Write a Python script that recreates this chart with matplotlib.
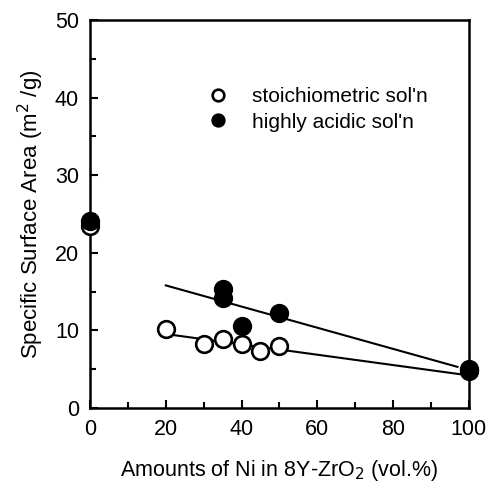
import matplotlib
matplotlib.use("Agg")
import matplotlib.pyplot as plt
from matplotlib.ticker import MultipleLocator

plt.rcParams['font.family'] = ['Liberation Sans', 'DejaVu Sans']

# Data
stoich_x = [0, 20, 30, 35, 40, 45, 50, 100]
stoich_y = [23.4, 10.2, 8.3, 8.9, 8.2, 7.4, 8.0, 4.8]
acid_x = [0, 35, 35, 40, 50, 100]
acid_y = [24.1, 15.3, 14.2, 10.6, 12.3, 5.0]

# Fitted lines (endpoints)
fit_stoich_x = [22, 100]
fit_stoich_y = [9.4, 4.2]
fit_acid_x = [20, 97]
fit_acid_y = [15.8, 5.3]

xticks = [0, 20, 40, 60, 80, 100]
yticks = [0, 10, 20, 30, 40, 50]

fig = plt.figure(figsize=(4.93, 4.86), dpi=100)
ax = fig.add_axes([0.1826, 0.1605, 0.7684, 0.7983])

ax.plot(fit_stoich_x, fit_stoich_y, color='black', lw=1.5, zorder=2)
ax.plot(fit_acid_x, fit_acid_y, color='black', lw=1.5, zorder=2)
ax.plot(stoich_x, stoich_y, 'o', ms=12, mfc='white', mec='black', mew=1.9,
        linestyle='none', label="stoichiometric sol'n", zorder=3, clip_on=False)
ax.plot(acid_x, acid_y, 'o', ms=12, mfc='black', mec='black', mew=1.9,
        linestyle='none', label="highly acidic sol'n", zorder=4, clip_on=False)

ax.set_xlim(0, 100)
ax.set_ylim(0, 50)
ax.set_xticks(xticks)
ax.set_yticks(yticks)
ax.xaxis.set_minor_locator(MultipleLocator(10))
ax.yaxis.set_minor_locator(MultipleLocator(5))
ax.tick_params(which='both', direction='in', width=1.5, labelsize=15.5, top=False, right=False)
ax.tick_params(which='major', length=6, pad=8)
ax.tick_params(which='minor', length=4)
for s in ax.spines.values():
    s.set_linewidth(1.8)

ax.set_xlabel('Amounts of Ni in 8Y-ZrO$_2$ (vol.%)', fontsize=15.5, labelpad=13)
ax.set_ylabel('Specific Surface Area (m$^2$ /g)', fontsize=16, labelpad=6)

leg = ax.legend(loc='upper left', bbox_to_anchor=(0.262, 0.875), frameon=False,
                fontsize=15, markerscale=0.7, handletextpad=1.1, labelspacing=0.3,
                handlelength=1.0)

fig.savefig('out.png', dpi=100)
